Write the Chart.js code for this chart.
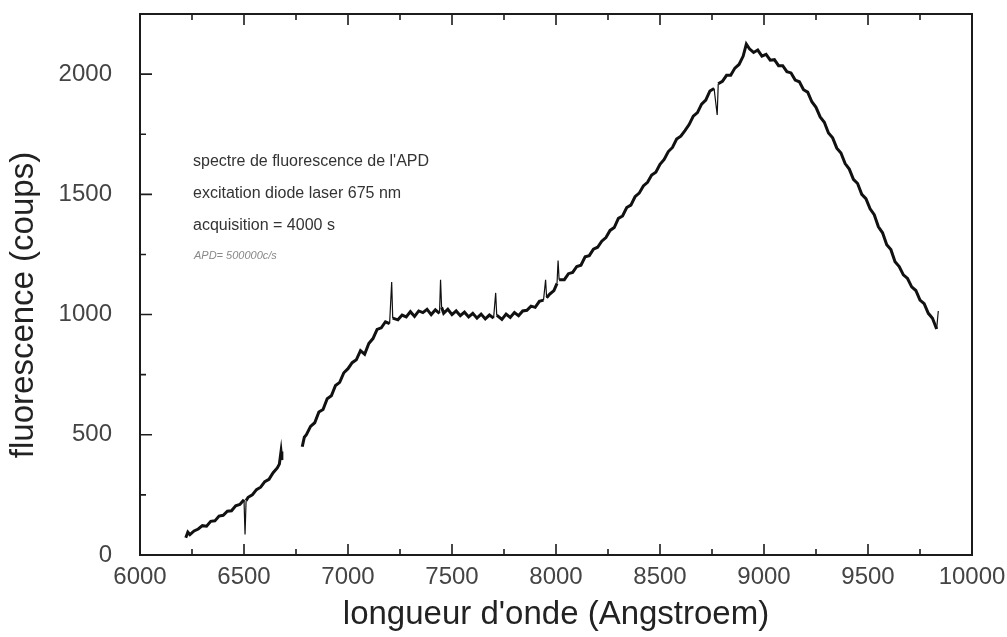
<!DOCTYPE html>
<html>
<head>
<meta charset="utf-8">
<script src="https://cdn.jsdelivr.net/npm/chart.js@4.4.1/dist/chart.umd.min.js"></script>
<style>
  html, body { margin: 0; padding: 0; background: #fff; }
  #wrap { position: relative; width: 1007px; height: 637px; }
</style>
</head>
<body>
<div id="wrap"><canvas id="chart"></canvas></div>
<script>
// wavelength (Angstroem); null marks the gap between the two acquisitions
const wavelength = [
  6220, 6230, 6240, 6260, 6280, 6300, 6320, 6340, 6360, 6380, 6400, 6420, 6440, 6460, 6480,
  6500, 6505, 6510, 6520, 6540, 6560, 6580, 6600, 6620, 6640, 6660, 6670, 6678, 6682,
  6730,
  6780, 6790, 6800, 6820, 6840, 6860, 6880, 6900, 6920, 6940, 6960, 6980, 7000, 7020, 7040,
  7060, 7080, 7100, 7120, 7140, 7160, 7180, 7200, 7210, 7215, 7240, 7260, 7280, 7300, 7320,
  7340, 7360, 7380, 7400, 7420, 7440, 7445, 7450, 7460, 7480, 7500, 7520, 7540, 7560, 7580,
  7600, 7620, 7640, 7660, 7680, 7700, 7710, 7715, 7740, 7760, 7780, 7800, 7820, 7840, 7860,
  7880, 7900, 7920, 7940, 7950, 7955, 7970, 7990, 8005, 8010, 8015, 8040, 8060, 8080, 8100,
  8120, 8140, 8160, 8180, 8200, 8220, 8240, 8260, 8280, 8300, 8320, 8340, 8360, 8380, 8400,
  8420, 8440, 8460, 8480, 8500, 8520, 8540, 8560, 8580, 8600, 8620, 8640, 8660, 8680, 8700,
  8720, 8740, 8760, 8775, 8780, 8800, 8820, 8840, 8860, 8880, 8900, 8915, 8930, 8950, 8970,
  8990, 9010, 9030, 9050, 9070, 9090, 9110, 9130, 9150, 9170, 9190, 9210, 9230, 9250, 9270,
  9290, 9310, 9330, 9350, 9370, 9390, 9410, 9430, 9450, 9470, 9490, 9510, 9530, 9550, 9570,
  9590, 9610, 9630, 9650, 9670, 9690, 9710, 9730, 9750, 9770, 9790, 9810, 9830, 9838
];

// fluorescence counts
const counts = [
  72, 95, 85, 100, 108, 122, 120, 140, 142, 162, 165, 182, 184, 205, 210,
  230, 85, 226, 240, 250, 272, 282, 305, 315, 342, 362, 378, 430, 395,
  null,
  450, 490, 500, 535, 550, 595, 605, 650, 662, 705, 718, 758, 775, 800, 812,
  850, 835, 880, 900, 938, 945, 970, 962, 1135, 985, 978, 998, 990, 1012, 992,
  1015, 1008, 1022, 1000, 1020, 1005, 1145, 1030, 1005, 1022, 1000, 1015, 995, 1010, 990,
  1005, 985, 1002, 982, 998, 985, 1090, 998, 980, 1002, 988, 1008, 995, 1015, 1018,
  1035, 1030, 1055, 1060, 1145, 1070, 1085, 1100, 1130, 1225, 1145, 1145, 1170, 1175, 1200,
  1205, 1240, 1245, 1272, 1280, 1305, 1320, 1350, 1362, 1400, 1410, 1445, 1455, 1490, 1505,
  1535, 1550, 1580, 1592, 1625, 1645, 1678, 1695, 1730, 1742, 1765, 1790, 1825, 1840, 1875,
  1892, 1930, 1940, 1830, 1960, 1970, 1995, 1995, 2025, 2040, 2075, 2125, 2105, 2090, 2100,
  2075, 2082, 2058, 2060, 2035, 2035, 2010, 2005, 1975, 1968, 1935, 1925, 1885, 1862, 1822,
  1800, 1755, 1735, 1692, 1672, 1628, 1605, 1562, 1545, 1500, 1482, 1440, 1415, 1365, 1340,
  1290, 1270, 1220, 1200, 1165, 1150, 1115, 1100, 1060, 1045, 1005, 985, 940, 1015
];

const xMin = 6000, xMax = 10000, xStep = 250, xLabelStep = 500;
const yMin = 0, yMax = 2250, yStep = 250, yLabelStep = 500;

const notes = [
  'spectre de fluorescence de l\'APD',
  'excitation diode laser 675 nm',
  'acquisition = 4000 s'
];
const handNote = 'APD= 500000c/s';
const xTitle = 'longueur d\'onde (Angstroem)';
const yTitle = 'fluorescence (coups)';

const points = wavelength.map((w, i) => ({ x: w, y: counts[i] }));
const FONT = '"Liberation Sans", Arial, Helvetica, sans-serif';
const INK = '#1c1c1c';

// frame, inward ticks, annotations, y title
const decor = {
  id: 'decor',
  afterDraw(chart) {
    const ctx = chart.ctx;
    const a = chart.chartArea;
    const xs = chart.scales.x, ys = chart.scales.y;
    ctx.save();
    ctx.strokeStyle = INK;
    ctx.lineWidth = 2;
    ctx.beginPath();
    ctx.moveTo(a.left, a.top); ctx.lineTo(a.right, a.top); ctx.lineTo(a.right, a.bottom);
    ctx.stroke();

    ctx.lineWidth = 1.6;
    ctx.beginPath();
    xs.ticks.forEach(t => {
      const px = xs.getPixelForValue(t.value);
      const len = t.value % xLabelStep === 0 ? 11 : 6;
      ctx.moveTo(px, a.bottom); ctx.lineTo(px, a.bottom - len);
      ctx.moveTo(px, a.top); ctx.lineTo(px, a.top + len);
    });
    ys.ticks.forEach(t => {
      const py = ys.getPixelForValue(t.value);
      const len = t.value % yLabelStep === 0 ? 12 : 6;
      ctx.moveTo(a.left, py); ctx.lineTo(a.left + len, py);
    });
    ctx.stroke();

    ctx.fillStyle = '#333';
    ctx.font = '16px ' + FONT;
    ctx.textBaseline = 'alphabetic';
    ctx.textAlign = 'left';
    notes.forEach((s, i) => ctx.fillText(s, 193, 166 + i * 32));
    ctx.fillStyle = '#888';
    ctx.font = 'italic 11px ' + FONT;
    ctx.fillText(handNote, 194, 259);

    ctx.fillStyle = '#222';
    ctx.font = '33px ' + FONT;
    ctx.translate(24, 305);
    ctx.rotate(-Math.PI / 2);
    ctx.textAlign = 'center';
    ctx.textBaseline = 'middle';
    ctx.fillText(yTitle, 0, 0);
    ctx.restore();
  }
};

new Chart(document.getElementById('chart'), {
  type: 'line',
  data: {
    datasets: [{
      data: points,
      borderColor: '#111',
      borderWidth: 3,
      pointRadius: 0,
      tension: 0,
      spanGaps: false,
      fill: false,
      // sharp noise spikes are drawn as thin strokes, like the recorder trace
      segment: {
        borderWidth: c => (Math.abs(c.p1.parsed.y - c.p0.parsed.y) > 60 ? 1.2 : 3)
      }
    }]
  },
  options: {
    responsive: true,
    maintainAspectRatio: false,
    animation: false,
    layout: { padding: { top: 14, right: 35, left: 0, bottom: 0 } },
    plugins: { legend: { display: false }, tooltip: { enabled: false } },
    scales: {
      x: {
        type: 'linear',
        min: xMin, max: xMax,
        grid: { display: false },
        border: { display: true, color: INK, width: 2 },
        ticks: {
          stepSize: xStep,
          autoSkip: false,
          maxRotation: 0,
          padding: 0,
          color: '#444',
          font: { family: FONT, size: 24 },
          callback: v => (v % xLabelStep === 0 ? String(v) : '')
        },
        title: {
          display: true,
          text: xTitle,
          color: '#222',
          font: { family: FONT, size: 33 },
          padding: { top: 0, bottom: 2 }
        },
        afterFit: s => { s.height = 82; s.paddingLeft = 0; s.paddingRight = 0; }
      },
      y: {
        min: yMin, max: yMax,
        grid: { display: false },
        border: { display: true, color: INK, width: 2 },
        ticks: {
          stepSize: yStep,
          autoSkip: false,
          padding: 20,
          color: '#444',
          font: { family: FONT, size: 24 },
          callback: v => (v % yLabelStep === 0 ? String(v) : '')
        },
        afterFit: s => { s.width = 140; s.paddingTop = 0; s.paddingBottom = 0; }
      }
    }
  },
  plugins: [decor]
});
</script>
</body>
</html>
